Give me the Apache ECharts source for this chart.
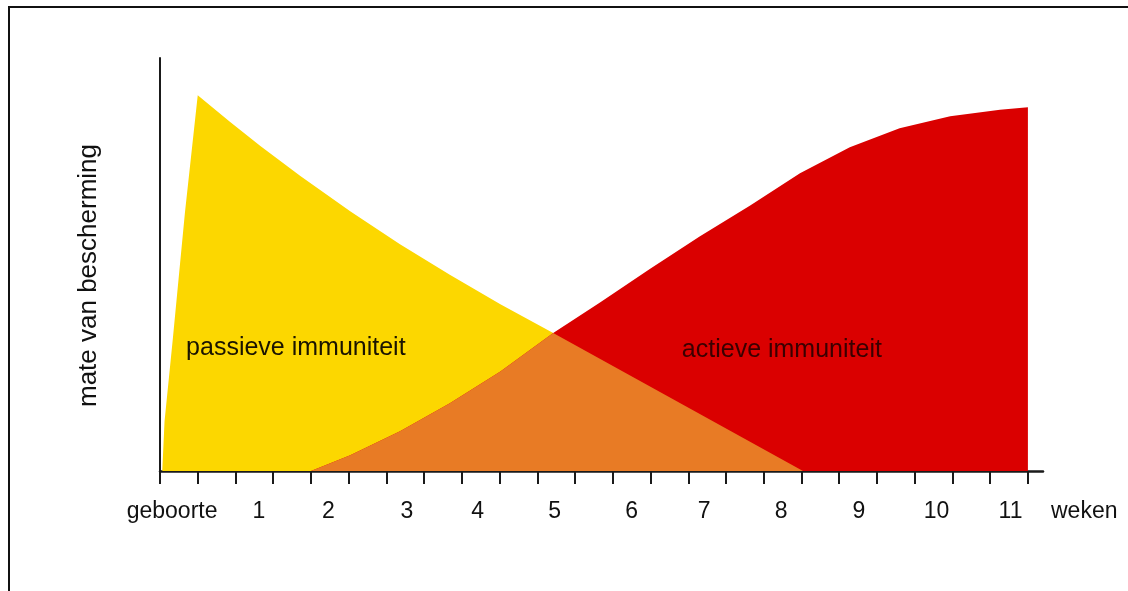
<!DOCTYPE html>
<html>
<head>
  <meta charset="utf-8">
  <title>immuniteit</title>
  <script src="https://cdn.jsdelivr.net/npm/echarts@6.0.0/dist/echarts.min.js"></script>
  <style>
    html, body { margin: 0; padding: 0; background: #fff; }
    #main { width: 1128px; height: 591px; }
    .frame {
      position: absolute; left: 8px; top: 6px; right: 0; bottom: 0;
      border-top: 2px solid #111; border-left: 2px solid #111;
      pointer-events: none;
    }
  </style>
</head>
<body>
<div id="main"></div>
<div class="frame"></div>
<script>
  // x in weken, y = mate van bescherming (0-100)
  var passief = [
    [0.03, 0], [0.06, 12.0], [0.17, 32.0], [0.33, 62.5], [0.50, 91.0], [0.93, 84.5], [1.33, 78.7], [1.86, 71.4],
    [2.52, 62.9], [3.18, 54.9], [3.84, 47.5], [4.51, 40.4], [5.21, 33.4], [8.52, 0]
  ];
  var actief = [
    [2.0, 0], [2.52, 3.8], [3.18, 9.6], [3.84, 16.4], [4.51, 24.1], [5.21, 33.4], [5.83, 40.8],
    [6.49, 48.9], [7.15, 56.8], [7.82, 64.3], [8.48, 72.1], [9.14, 78.4], [9.80, 83.0],
    [10.47, 85.9], [11.13, 87.5], [11.50, 88.1], [11.50, 0]
  ];
  var kruispunt = 5.21;
  var tickWaarden = [0, 0.5, 1, 1.5, 2, 2.5, 3, 3.5, 4, 4.5, 5, 5.5, 6, 6.5, 7, 7.5, 8, 8.5, 9, 9.5, 10, 10.5, 11, 11.5];
  var labelPos = [0.16, 1.31, 2.23, 3.27, 4.21, 5.23, 6.25, 7.21, 8.23, 9.26, 10.29, 11.27];
  var labelTekst = ['geboorte', '1', '2', '3', '4', '5', '6', '7', '8', '9', '10', '11'];

  // overlap onder beide curves (oranje): actief tot het kruispunt, daarna passief
  var overlap = actief.filter(function (p) { return p[0] <= kruispunt; })
    .concat(passief.filter(function (p) { return p[0] > kruispunt; }));

  var font = '"Liberation Sans", Arial, sans-serif';
  var myChart = echarts.init(document.getElementById('main'));

  var option = {
    animation: false,
    grid: { left: 160, right: 85, top: 58, bottom: 120, containLabel: false, outerBoundsMode: 'none' },
    xAxis: {
      type: 'value',
      min: 0,
      max: 11.7,
      name: 'weken',
      nameLocation: 'end',
      nameGap: 8,
      nameTextStyle: {
        fontFamily: font, fontSize: 23, color: '#111',
        align: 'left', verticalAlign: 'top', padding: [29, 0, 0, 0]
      },
      splitLine: { show: false },
      axisLine: { lineStyle: { color: '#1a1a1a', width: 2.5 } },
      axisTick: {
        customValues: tickWaarden,
        length: 13,
        lineStyle: { color: '#1a1a1a', width: 2 }
      },
      axisLabel: {
        customValues: labelPos,
        margin: 29,
        fontFamily: font,
        fontSize: 23,
        color: '#111',
        formatter: function (v) {
          for (var i = 0; i < labelPos.length; i++) {
            if (Math.abs(labelPos[i] - v) < 1e-6) return labelTekst[i];
          }
          return '';
        }
      }
    },
    yAxis: {
      type: 'value',
      min: 0,
      max: 100,
      name: 'mate van bescherming',
      nameLocation: 'middle',
      nameRotate: 90,
      nameGap: 58,
      nameTextStyle: { fontFamily: font, fontSize: 26, color: '#111', padding: [0, 0, 0, -22] },
      splitLine: { show: false },
      axisTick: { show: false },
      axisLabel: { show: false },
      axisLine: { show: true, lineStyle: { color: '#1a1a1a', width: 2 } }
    },
    series: [
      {
        name: 'passieve immuniteit',
        type: 'line',
        data: passief,
        showSymbol: false,
        lineStyle: { width: 0 },
        areaStyle: { color: '#FCD700', opacity: 1 },
        markPoint: {
          symbol: 'circle', symbolSize: 0,
          label: { show: true, formatter: 'passieve immuniteit', fontFamily: font, fontSize: 25, color: '#1a1400' },
          data: [{ coord: [1.80, 29.8] }]
        }
      },
      {
        name: 'actieve immuniteit',
        type: 'line',
        data: actief,
        showSymbol: false,
        lineStyle: { width: 0 },
        areaStyle: { color: '#DA0000', opacity: 1 },
        markPoint: {
          symbol: 'circle', symbolSize: 0,
          label: { show: true, formatter: 'actieve immuniteit', fontFamily: font, fontSize: 25, color: '#3a0000' },
          data: [{ coord: [8.24, 29.3] }]
        }
      },
      {
        name: 'overlap',
        type: 'line',
        data: overlap,
        showSymbol: false,
        lineStyle: { width: 0 },
        areaStyle: { color: '#E87B25', opacity: 1 }
      }
    ]
  };

  option && myChart.setOption(option);

  window.onresize = function () {
    myChart.resize();
  };
</script>
</body>
</html>
